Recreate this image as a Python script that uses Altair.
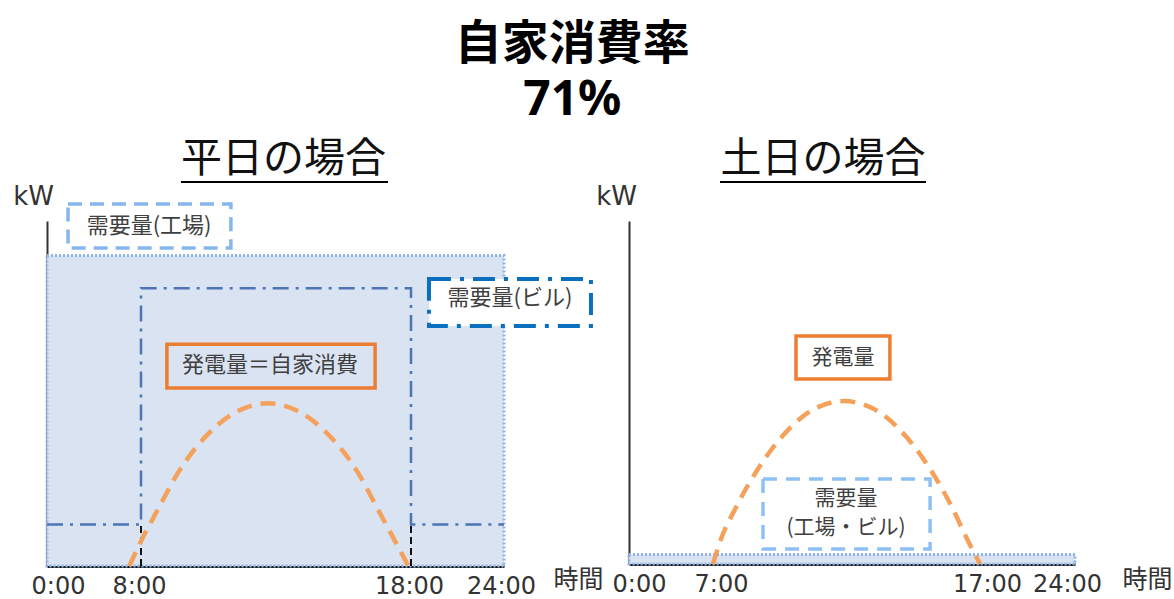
import altair as alt
import pandas as pd

FONT_JP = "Noto Sans CJK JP"
FONT_NUM = "DejaVu Sans, Noto Sans CJK JP"
TEXT_COLOR = "#404040"
ORANGE_LINE = "#f4a15c"
ORANGE_BOX = "#ed7d31"
FILL_BLUE = "#dae3f1"
DOT_BLUE = "#8fb4e8"

# ---------------- weekday panel (平日) ----------------
wd_ticks = [0, 8, 18, 24]
wd_factory_hours = [0, 24]
wd_factory_kw = [0, 90]
wd_building_hours = [0, 8, 8, 18, 18, 24]
wd_building_kw = [12, 12, 80.5, 80.5, 12, 12]
wd_guide_hours = [8, 18]
wd_guide_kw = [0, 12]
wd_gen_hours = [7.0, 8.0, 8.59, 9.41, 10.59, 11.59, 12.70, 13.81, 14.81, 16.0, 16.81, 17.41, 17.9]
wd_gen_kw = [0, 7.2, 15.9, 27.5, 39.1, 44.9, 47.2, 44.9, 39.1, 27.5, 15.9, 7.2, 0]

# ---------------- weekend panel (土日) ----------------
we_ticks = [0, 7, 17, 24]
we_demand_hours = [0, 24]
we_demand_kw = [0, 2.8]
we_gen_hours = [6.39, 7.0, 7.53, 8.39, 9.56, 10.50, 11.62, 12.75, 13.69, 14.86, 15.72, 16.25, 16.74]
we_gen_kw = [0, 7.3, 16.0, 27.7, 39.4, 45.2, 47.5, 45.2, 39.4, 27.7, 16.0, 7.3, 0]

# label boxes, in (hour, kW) units of each panel
wd_factory_box = {"x": 1.79, "x2": 11.33, "y": 92.2, "y2": 104.9, "tx": 8.30, "ty": 98.6, "text": "需要量(工場)"}
wd_building_box = {"x": 19.16, "x2": 29.61, "y": 69.6, "y2": 83.2, "tx": 24.39, "ty": 77.7, "text": "需要量(ビル)"}
wd_gen_box = {"x": 8.96, "x2": 16.67, "y": 51.6, "y2": 64.3, "tx": 12.78, "ty": 58.3, "text": "発電量＝自家消費"}
we_gen_box = {"x": 9.82, "x2": 13.35, "y": 53.9, "y2": 66.5, "tx": 11.59, "ty": 60.1, "text": "発電量"}
we_demand_box = {"x": 8.58, "x2": 14.86, "y": 4.4, "y2": 24.8, "tx": 11.70, "ty": 19.0, "text": "需要量"}
we_demand_box2 = {"tx": 11.70, "ty": 10.5, "text": "(工場・ビル)"}

WD_W, WD_H = 457, 345
WE_W, WE_H = 446, 343

wd_xscale = alt.Scale(domain=wd_ticks, range=[0, 94, 364, WD_W], nice=False, zero=False)
we_xscale = alt.Scale(domain=we_ticks, range=[0, 92, 358, WE_W], nice=False, zero=False)
yscale = alt.Scale(domain=[0, 100], nice=False, zero=False)


def x_axis(ticks, title_x, title_y, first_shift, last_shift, mid_shift):
    # nudge the end labels inward so they sit clear of the axis corners
    label_offset = {
        "condition": [
            {"test": f"datum.value == {ticks[0]}", "value": first_shift},
            {"test": f"datum.value == {ticks[-1]}", "value": last_shift},
        ],
        "value": mid_shift,
    }
    return alt.Axis(
        values=ticks, labelExpr="datum.value + ':00'", ticks=False, grid=False,
        domainColor="#1a1a1a", domainWidth=3, labelFont=FONT_NUM, labelFontSize=24,
        labelColor="#333333", labelPadding=8, labelFlush=False, labelOverlap=False,
        labelOffset=label_offset,
        title="時間", titleFont=FONT_JP, titleFontSize=25, titleFontWeight="normal",
        titleColor="#333333", titleAngle=0, titleAlign="center", titleBaseline="middle",
        titleX=title_x, titleY=title_y,
    )


def y_axis(title_x, title_y):
    return alt.Axis(
        labels=False, ticks=False, grid=False, domainColor="#333333", domainWidth=2,
        title="kW", titleFont=FONT_NUM, titleFontSize=26, titleFontWeight="normal",
        titleColor="#333333", titleAngle=0, titleAlign="center", titleBaseline="middle",
        titleX=title_x, titleY=title_y,
    )


class Panel:
    """Shared x/y encodings (scale + axis) for every layer of one panel."""

    def __init__(self, xscale, xaxis, yaxis):
        self.xscale, self.xaxis, self.yaxis = xscale, xaxis, yaxis

    def x(self, field):
        return alt.X(field, scale=self.xscale, axis=self.xaxis)

    def y(self, field):
        return alt.Y(field, scale=yscale, axis=self.yaxis)


def box(p, spec, stroke, dash, width, fill):
    df = pd.DataFrame([{k: spec[k] for k in ("x", "x2", "y", "y2")}])
    kw = dict(stroke=stroke, strokeWidth=width, fill=fill if fill else "transparent")
    if dash:
        kw["strokeDash"] = dash
    return alt.Chart(df).mark_rect(**kw).encode(
        x=p.x("x:Q"), x2="x2:Q", y=p.y("y:Q"), y2="y2:Q",
    )


def label(p, specs, size=22):
    df = pd.DataFrame([{"tx": s["tx"], "ty": s["ty"], "text": s["text"]} for s in specs])
    return alt.Chart(df).mark_text(font=FONT_JP, fontSize=size, color=TEXT_COLOR).encode(
        x=p.x("tx:Q"), y=p.y("ty:Q"), text="text:N",
    )


def underline(x1, x2, y):
    return alt.Chart(pd.DataFrame({"u": [0]})).mark_rule(color="#000000", strokeWidth=2).encode(
        x=alt.value(x1), x2=alt.value(x2), y=alt.value(y)
    )


def panel_title(text, dx):
    return alt.TitleParams(
        text=text, font=FONT_JP, fontSize=41, fontWeight="normal", color="#111111",
        anchor="middle", frame="group", dx=dx, offset=0,
    )


# ---- weekday layers ----
wd = Panel(wd_xscale, x_axis(wd_ticks, 531, 13, 11, -3, -2), y_axis(-14, -25))

wd_factory = alt.Chart(pd.DataFrame({
    "h0": [wd_factory_hours[0]], "h1": [wd_factory_hours[1]],
    "k0": [wd_factory_kw[0]], "k1": [wd_factory_kw[1]],
})).mark_rect(fill=FILL_BLUE, stroke=DOT_BLUE, strokeWidth=3, strokeDash=[2, 2]).encode(
    x=wd.x("h0:Q"), x2="h1:Q", y=wd.y("k0:Q"), y2="k1:Q",
)

wd_guides = alt.Chart(pd.DataFrame({
    "h": wd_guide_hours, "k0": [wd_guide_kw[0]] * 2, "k1": [wd_guide_kw[1]] * 2,
})).mark_rule(color="#111111", strokeWidth=2, strokeDash=[7, 4]).encode(
    x=wd.x("h:Q"), y=wd.y("k0:Q"), y2="k1:Q",
)

wd_building = alt.Chart(pd.DataFrame({
    "h": wd_building_hours, "k": wd_building_kw, "i": list(range(len(wd_building_hours))),
})).mark_line(color="#4d74b6", strokeWidth=2.5, strokeDash=[16, 7, 3, 7]).encode(
    x=wd.x("h:Q"), y=wd.y("k:Q"), order="i:Q",
)

wd_gen = alt.Chart(pd.DataFrame({"h": wd_gen_hours, "k": wd_gen_kw})).mark_line(
    color=ORANGE_LINE, strokeWidth=4.5, strokeDash=[15, 9], interpolate="monotone"
).encode(x=wd.x("h:Q"), y=wd.y("k:Q"))

left = alt.layer(
    wd_factory,
    wd_guides,
    wd_building,
    wd_gen,
    box(wd, wd_factory_box, "#86b6ee", [14, 8], 3.5, "white"),
    box(wd, wd_building_box, "#0a6fbd", [22, 9, 4, 9], 4, "white"),
    box(wd, wd_gen_box, ORANGE_BOX, None, 3.5, None),
    label(wd, [wd_factory_box, wd_building_box, wd_gen_box]),
    underline(134, 341, -39),
).properties(width=WD_W, height=WD_H, title=panel_title("平日の場合", 8))

# ---- weekend layers ----
we = Panel(we_xscale, x_axis(we_ticks, 518, 15, 10, -8, 0), y_axis(-13, -25))

we_demand = alt.Chart(pd.DataFrame({
    "h0": [we_demand_hours[0]], "h1": [we_demand_hours[1]],
    "k0": [we_demand_kw[0]], "k1": [we_demand_kw[1]],
})).mark_rect(fill=FILL_BLUE, stroke=DOT_BLUE, strokeWidth=3, strokeDash=[2, 2]).encode(
    x=we.x("h0:Q"), x2="h1:Q", y=we.y("k0:Q"), y2="k1:Q",
)

we_gen = alt.Chart(pd.DataFrame({"h": we_gen_hours, "k": we_gen_kw})).mark_line(
    color=ORANGE_LINE, strokeWidth=4.5, strokeDash=[15, 9], interpolate="monotone"
).encode(x=we.x("h:Q"), y=we.y("k:Q"))

right = alt.layer(
    we_demand,
    we_gen,
    box(we, we_demand_box, "#8ec0f5", [14, 9], 3.5, None),
    box(we, we_gen_box, ORANGE_BOX, None, 3.5, None),
    label(we, [we_gen_box, we_demand_box, we_demand_box2], size=21),
    underline(91, 297, -39),
).properties(width=WE_W, height=WE_H, title=panel_title("土日の場合", -29))

chart = alt.hconcat(left, right, spacing=125, bounds="flush").properties(
    title=alt.TitleParams(
        text="自家消費率", subtitle="71%", font=FONT_JP, fontSize=47, fontWeight="bold",
        color="#000000", subtitleFont="Noto Sans", subtitleFontSize=48,
        subtitleFontWeight="bold", subtitleColor="#000000", subtitlePadding=8,
        anchor="middle", frame="bounds", dx=-20, offset=13,
    ),
    padding={"left": 12, "top": 21, "right": 0, "bottom": 0},
    background="white",
).configure_view(stroke=None)

chart.save("out.html", embed_options={"renderer": "svg", "actions": False})
